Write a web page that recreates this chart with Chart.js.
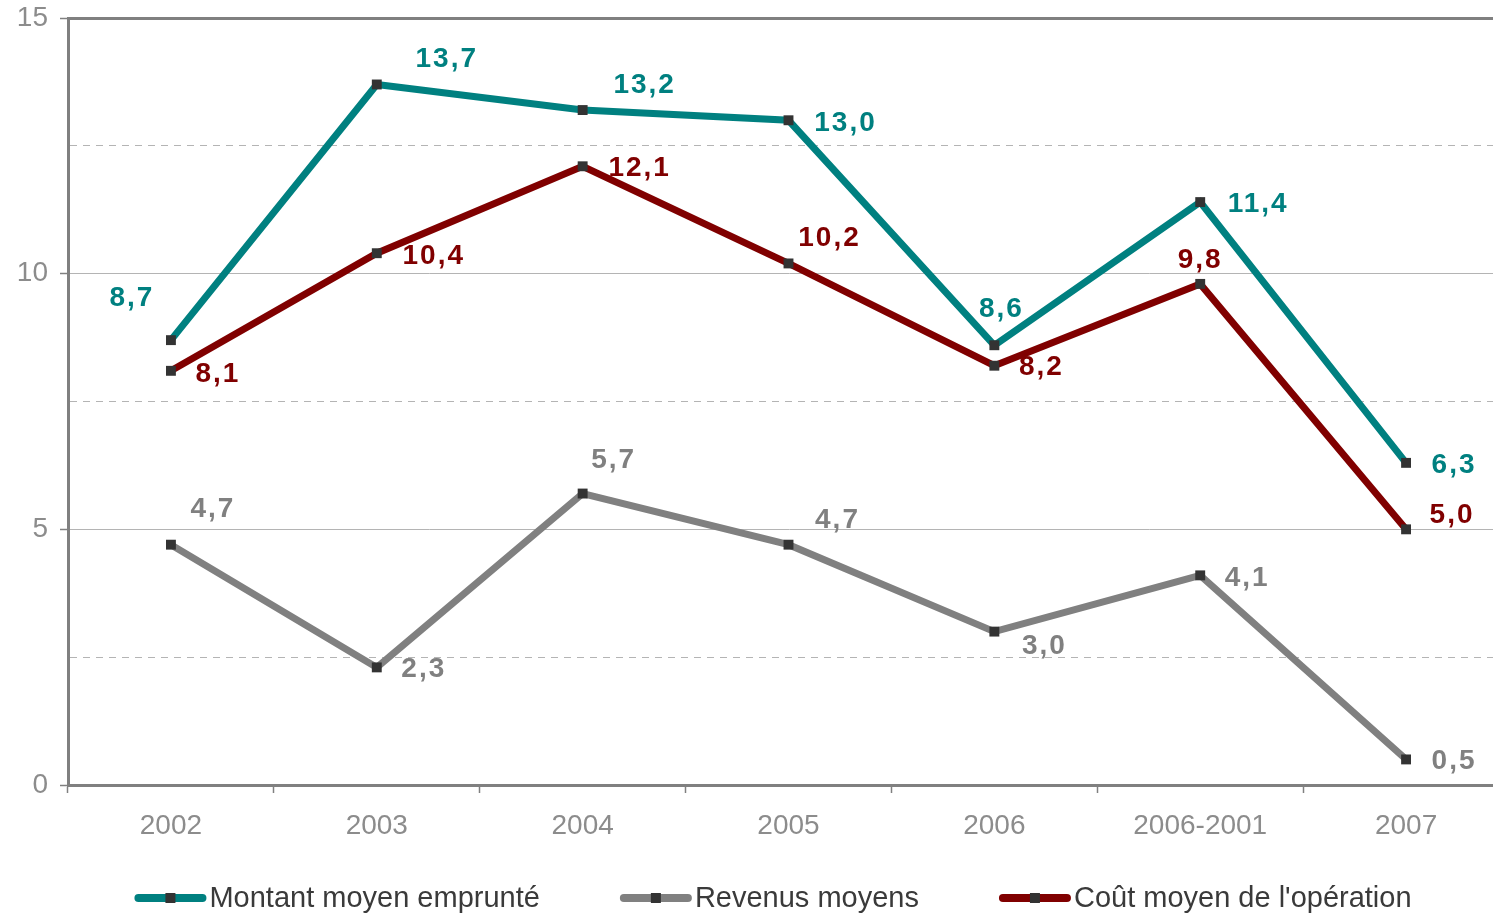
<!DOCTYPE html>
<html>
<head>
<meta charset="utf-8">
<script src="https://cdn.jsdelivr.net/npm/chart.js@4/dist/chart.umd.min.js"></script>
<style>
  html, body { margin: 0; padding: 0; overflow: hidden; background: #fff; width: 1493px; height: 915px; }
  #wrap { position: absolute; left: 0; top: 0; width: 1516px; height: 915px; }
</style>
</head>
<body>
<div id="wrap"><canvas id="c" width="1516" height="915"></canvas></div>
<script>
// Categories and series (values in k€)
const categories = ['2002', '2003', '2004', '2005', '2006', '2006-2001', '2007'];
const montantMoyen = [8.7, 13.7, 13.2, 13.0, 8.6, 11.4, 6.3];
const revenusMoyens = [4.7, 2.3, 5.7, 4.7, 3.0, 4.1, 0.5];
const coutMoyen = [8.1, 10.4, 12.1, 10.2, 8.2, 9.8, 5.0];
const seriesNames = ['Montant moyen emprunté', 'Revenus moyens', "Coût moyen de l'opération"];
const yTickLabels = [0, 5, 10, 15];

// Value-label placement, as [dx, dy] from each point
const montantLabelOffsets = [[-39, -42], [70, -25], [62, -25], [57, 3], [7, -36], [58, 2], [48, 2]];
const revenusLabelOffsets = [[42, -35], [47, 2], [31, -33], [49, -24], [50, 15], [47, 3], [48, 2]];
const coutLabelOffsets = [[47, 3], [57, 3], [57, 2], [41, -25], [47, 2], [0, -24], [46, -14]];

const TEAL = '#008080', GREY = '#808080', DARKRED = '#800000';
const AXIS = '#808080';

function series(label, data, color, offsets) {
  return {
    label, data,
    borderColor: color,
    backgroundColor: color,
    borderWidth: 7,
    tension: 0,
    pointStyle: 'rect',
    pointRadius: 7,
    pointHoverRadius: 7,
    pointBackgroundColor: '#333333',
    pointBorderColor: '#333333',
    pointBorderWidth: 0,
    labelOffsets: offsets
  };
}

const valueLabels = {
  id: 'valueLabels',
  afterDatasetsDraw(chart) {
    const ctx = chart.ctx;
    ctx.save();
    ctx.font = 'bold 28px "Liberation Sans", Arial, sans-serif';
    ctx.letterSpacing = '2px';
    ctx.textAlign = 'center';
    ctx.textBaseline = 'middle';
    chart.data.datasets.forEach((ds, i) => {
      const meta = chart.getDatasetMeta(i);
      meta.data.forEach((pt, j) => {
        const [dx, dy] = ds.labelOffsets[j];
        ctx.fillStyle = ds.borderColor;
        ctx.fillText(ds.data[j].toFixed(1).replace('.', ','), pt.x + dx, pt.y + dy);
      });
    });
    ctx.restore();
  }
};

const lineLegend = {
  id: 'lineLegend',
  afterDraw(chart) {
    const ctx = chart.ctx;
    const lineW = 72, gapText = 3, gapItem = 80, y = 898;
    ctx.save();
    ctx.font = '29px "Liberation Sans", Arial, sans-serif';
    const items = chart.data.datasets.map(ds => ({ ds, w: ctx.measureText(ds.label).width }));
    const total = items.reduce((s, it) => s + lineW + gapText + it.w, 0) + gapItem * (items.length - 1);
    let x = chart.width / 2 + 15 - total / 2;
    items.forEach(({ ds, w }) => {
      ctx.strokeStyle = ds.borderColor;
      ctx.lineWidth = 8;
      ctx.lineCap = 'round';
      ctx.beginPath();
      ctx.moveTo(x + 4, y);
      ctx.lineTo(x + lineW - 4, y);
      ctx.stroke();
      ctx.fillStyle = '#333333';
      ctx.fillRect(x + lineW / 2 - 5, y - 5, 10, 10);
      ctx.fillStyle = '#3a3a3a';
      ctx.textAlign = 'left';
      ctx.textBaseline = 'middle';
      ctx.fillText(ds.label, x + lineW + gapText, y + 1);
      x += lineW + gapText + w + gapItem;
    });
    ctx.restore();
  }
};

new Chart(document.getElementById('c'), {
  type: 'line',
  data: {
    labels: categories,
    datasets: [
      series(seriesNames[0], montantMoyen, TEAL, montantLabelOffsets),
      series(seriesNames[1], revenusMoyens, GREY, revenusLabelOffsets),
      series(seriesNames[2], coutMoyen, DARKRED, coutLabelOffsets)
    ]
  },
  options: {
    responsive: false,
    devicePixelRatio: 1,
    animation: false,
    layout: { padding: { top: 18, right: 3, left: 0, bottom: 0 } },
    plugins: { legend: { display: false }, tooltip: { enabled: false } },
    scales: {
      x: {
        offset: true,
        afterFit: s => { s.height = 130; s.paddingLeft = 0; s.paddingRight = 0; },
        grid: {
          offset: true,
          drawOnChartArea: false,
          tickLength: 8,
          tickColor: AXIS,
          tickWidth: 1.5
        },
        border: { color: AXIS, width: 3 },
        ticks: {
          color: '#8c8c8c',
          padding: 16,
          maxRotation: 0,
          autoSkip: false,
          font: { family: '"Liberation Sans", Arial, sans-serif', size: 28 }
        }
      },
      y: {
        min: 0,
        max: 15,
        afterFit: s => { s.width = 68; s.paddingTop = 0; s.paddingBottom = 0; },
        afterBuildTicks: s => {
          s.ticks = [0, 2.5, 5, 7.5, 10, 12.5, 15].map(v => ({ value: v }));
        },
        grid: {
          color: c => c.tick && c.tick.value === 15 ? AXIS : '#b4b4b4',
          lineWidth: c => c.tick && c.tick.value === 15 ? 3 : 1,
          tickLength: 8,
          tickWidth: 1.5,
          tickColor: c => c.tick && yTickLabels.includes(c.tick.value) ? AXIS : 'rgba(0,0,0,0)',
          borderDash: c => c.tick && !yTickLabels.includes(c.tick.value) ? [7, 6] : []
        },
        border: {
          color: AXIS,
          width: 3,
          dash: c => c.tick && !yTickLabels.includes(c.tick.value) ? [7, 6] : []
        },
        ticks: {
          color: '#8c8c8c',
          padding: 12,
          font: { family: '"Liberation Sans", Arial, sans-serif', size: 28 },
          callback: v => yTickLabels.includes(v) ? String(v) : ''
        }
      }
    }
  },
  plugins: [valueLabels, lineLegend]
});
</script>
</body>
</html>
